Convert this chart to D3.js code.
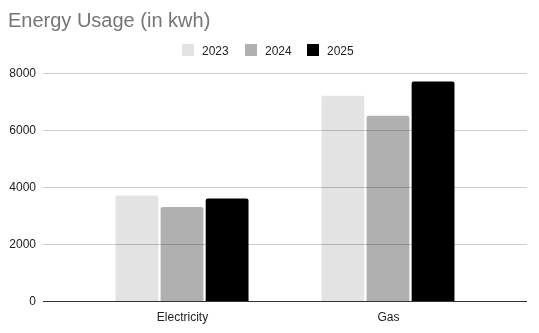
<!DOCTYPE html>
<html><head><meta charset="utf-8">
<script src="https://cdn.jsdelivr.net/npm/d3@7"></script>
<style>body{margin:0;background:#fff}svg{display:block;font-family:"Liberation Sans",Arial,sans-serif}</style>
</head><body>
<svg id="c" width="539" height="333"></svg>
<script>
const categories = ["Electricity", "Gas"];
const seriesNames = ["2023", "2024", "2025"];
const values2023 = [3700, 7200];
const values2024 = [3300, 6500];
const values2025 = [3600, 7700];
const yTicks = [0, 2000, 4000, 6000, 8000];
const colors = ["#e3e3e3", "#b0b0b0", "#000000"];
const seriesValues = [values2023, values2024, values2025];

(function () {
const svg = d3.select("#c");
const pLeft = 43, pRight = 527, pTop = 73, pBottom = 301;

const y = d3.scaleLinear().domain([0, 8000]).range([pBottom, pTop]);
const x = d3.scalePoint().domain(categories).range([pLeft, pRight]).padding(0.675);
const xs = d3.scaleBand().domain(seriesNames).range([-66.5, 66.5]).paddingInner(0.05);

svg.append("text").attr("x", 8).attr("y", 27).attr("fill", "#757575")
  .attr("font-size", 20).text("Energy Usage (in kwh)");

// legend
const legX = [182, 245, 307];
seriesNames.forEach((s, i) => {
  svg.append("rect").attr("x", legX[i]).attr("y", 44).attr("width", 12).attr("height", 12).attr("fill", colors[i]);
  svg.append("text").attr("x", legX[i] + 20).attr("y", 54.5).attr("font-size", 12).attr("fill", "#222").text(s);
});

// bars
const data = [];
categories.forEach((c, ci) => seriesNames.forEach((s, si) => data.push({c, s, v: seriesValues[si][ci], color: colors[si]})));
svg.append("g").selectAll("path").data(data).join("path")
  .attr("d", d => {
    const x0 = x(d.c) + xs(d.s), w = xs.bandwidth(), y0 = y(d.v), h = y(0) - y0, r = 2;
    return `M${x0},${y0 + h}V${y0 + r}Q${x0},${y0} ${x0 + r},${y0}H${x0 + w - r}Q${x0 + w},${y0} ${x0 + w},${y0 + r}V${y0 + h}Z`;
  })
  .attr("fill", d => d.color);

// gridlines + y axis
const yAxis = d3.axisLeft(y).tickValues(yTicks).tickSize(-(pRight - pLeft)).tickPadding(7).tickFormat(d3.format("d"));
const ga = svg.append("g").attr("transform", `translate(${pLeft},0)`).call(yAxis);
ga.select(".domain").remove();
ga.selectAll(".tick line").attr("stroke", "#cccccc").style("mix-blend-mode", "multiply");
ga.selectAll(".tick text").attr("font-size", 12).attr("fill", "#222").attr("font-family", "Liberation Sans, Arial, sans-serif");
ga.selectAll(".tick").filter(d => d === 0).select("line").attr("stroke", "#333");

// x axis labels
const xAxis = d3.axisBottom(x).tickSize(0).tickPadding(11);
const gx = svg.append("g").attr("transform", `translate(0,${pBottom})`).call(xAxis);
gx.select(".domain").remove();
gx.selectAll(".tick text").attr("font-size", 12).attr("fill", "#222").attr("font-family", "Liberation Sans, Arial, sans-serif");
})();
</script>
</body></html>
